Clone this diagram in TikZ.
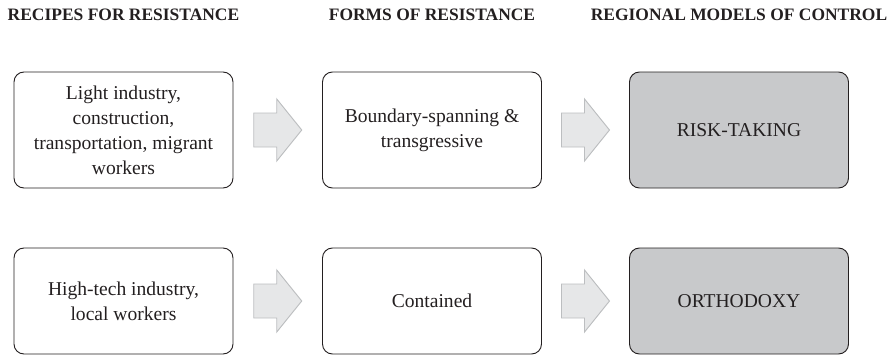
\documentclass[tikz,border=0pt]{standalone}
\usepackage{fontspec}
\setmainfont{Liberation Serif}
\usetikzlibrary{calc,positioning}
\definecolor{boxgray}{HTML}{C8C9CB}
\definecolor{arrowfill}{HTML}{E6E7E8}
\definecolor{arrowline}{HTML}{BCBEC0}
\definecolor{inkgray}{HTML}{231F20}

\begin{document}
\begin{tikzpicture}[
  x=0.03cm, y=-0.03cm,
  stage/.style={draw=inkgray, line width=0.8pt, rounded corners=8.5pt,
    minimum width=6.57cm, inner sep=0pt, align=center, text=inkgray,
    font=\fontsize{16.7}{21.3}\selectfont},
  model/.style={stage, fill=boxgray},
  heading/.style={font=\bfseries\fontsize{14.9}{17}\selectfont, text=inkgray},
  flow/.style={draw=arrowline, fill=arrowfill, line width=0.8pt}
]
  \useasboundingbox (0,0) rectangle (895,356);

  % column headings
  \node[heading] (hr) at (123.5,15) {RECIPES FOR RESISTANCE};
  \node[heading] (hf) at (432,15) {FORMS OF RESISTANCE};
  \node[heading] (hm) at (739,15) {REGIONAL MODELS OF CONTROL};

  % first row
  \node[stage, minimum height=3.48cm] (r1) at (123.5,130)
    {Light industry,\\construction,\\transportation, migrant\\workers};
  \node[stage, minimum height=3.48cm] (f1) at (432,130)
    {Boundary-spanning \&\\transgressive};
  \node[model, minimum height=3.48cm] (m1) at (739,130) {RISK-TAKING};

  % second row
  \node[stage, minimum height=3.18cm] (r2) at (123.5,301)
    {High-tech industry,\\local workers};
  \node[stage, minimum height=3.18cm] (f2) at (432,301) {Contained};
  \node[model, minimum height=3.18cm] (m2) at (739,301) {ORTHODOXY};

  \foreach \a/\b in {r1/f1,f1/m1,r2/f2,f2/m2}
    \draw[flow] ($(\a.east)!0.5!(\b.west)$) ++(-24,-17) -- ++(23,0)
      -- ++(0,-14) -- ++(25,31) -- ++(-25,31) -- ++(0,-14) -- ++(-23,0) -- cycle;
\end{tikzpicture}
\end{document}
